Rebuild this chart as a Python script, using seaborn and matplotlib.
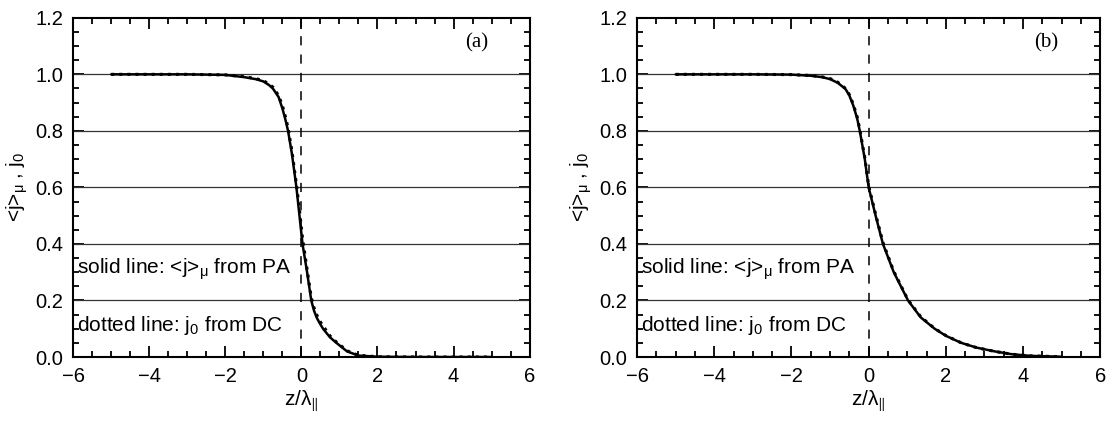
import numpy as np
import pandas as pd
import matplotlib
matplotlib.use("Agg")
import matplotlib.pyplot as plt
import seaborn as sns
from matplotlib.ticker import MultipleLocator

# panel (a): <j>_mu from PA (solid) and j0 from DC (dotted)
z_a = [-5.0, -3.0, -2.0, -1.5, -1.2, -1.0, -0.85, -0.75, -0.6, -0.5, -0.42, -0.35,
       -0.25, -0.13, -0.05, 0.03, 0.15, 0.26, 0.33, 0.4, 0.48, 0.57, 0.75, 0.92,
       1.2, 1.5, 2.0, 3.0, 4.0, 5.0]
pa_a = [1.0, 1.0, 0.998, 0.99, 0.983, 0.975, 0.962, 0.95, 0.92, 0.88, 0.84, 0.8,
        0.72, 0.6, 0.5, 0.4, 0.3, 0.2, 0.165, 0.14, 0.12, 0.1, 0.07, 0.05,
        0.02, 0.005, 0.001, 0.0, 0.0, 0.0]
dc_a = [1.0, 1.0, 0.998, 0.992, 0.985, 0.978, 0.965, 0.955, 0.925, 0.89, 0.85, 0.81,
        0.73, 0.61, 0.52, 0.42, 0.31, 0.21, 0.175, 0.15, 0.128, 0.11, 0.075, 0.053,
        0.022, 0.006, 0.001, 0.0, 0.0, 0.0]

# panel (b)
z_b = [-5.0, -3.0, -2.0, -1.5, -1.2, -1.0, -0.8, -0.6, -0.5, -0.4, -0.3, -0.23,
       -0.1, 0.0, 0.18, 0.37, 0.65, 1.02, 1.35, 1.71, 2.0, 2.4, 2.8, 3.26, 3.7,
       4.2, 5.0]
pa_b = [1.0, 1.0, 0.999, 0.995, 0.99, 0.983, 0.97, 0.948, 0.925, 0.89, 0.845, 0.8,
        0.7, 0.6, 0.5, 0.4, 0.3, 0.2, 0.14, 0.1, 0.075, 0.05, 0.033, 0.02, 0.01,
        0.004, 0.001]
dc_b = [1.0, 1.0, 0.999, 0.996, 0.991, 0.985, 0.972, 0.95, 0.928, 0.895, 0.85, 0.805,
        0.705, 0.605, 0.505, 0.405, 0.303, 0.202, 0.142, 0.101, 0.076, 0.05, 0.033,
        0.02, 0.01, 0.004, 0.001]

panels = [("(a)", z_a, pa_a, dc_a), ("(b)", z_b, pa_b, dc_b)]
y_ticks = [0.0, 0.2, 0.4, 0.6, 0.8, 1.0, 1.2]
x_ticks = [-6, -4, -2, 0, 2, 4, 6]

sns.set_style("ticks")
plt.rcParams["font.family"] = ["Liberation Sans", "DejaVu Sans"]
plt.rcParams["mathtext.fontset"] = "custom"
plt.rcParams["mathtext.rm"] = "Liberation Sans"
plt.rcParams["mathtext.it"] = "Liberation Sans"
plt.rcParams["mathtext.sf"] = "Liberation Sans"
for key in ["text.color", "axes.labelcolor", "xtick.color", "ytick.color", "axes.edgecolor"]:
    plt.rcParams[key] = "black"

fig = plt.figure(figsize=(11.08, 4.24), dpi=100)
rects = [[0.066, 0.158, 0.412, 0.80], [0.575, 0.158, 0.418, 0.80]]

for rect, (tag, z, pa, dc) in zip(rects, panels):
    ax = fig.add_axes(rect)
    df = pd.DataFrame({"z": z, "pa": pa, "dc": dc})
    for y in y_ticks[1:-1]:
        ax.axhline(y, color="#333333", lw=0.9, zorder=1)
    ax.axvline(0, ymin=0, ymax=1, color="black", lw=1.1, ls=(0, (6, 6)), zorder=2)
    sns.lineplot(data=df, x="z", y="dc", ax=ax, color="black", lw=2.2,
                 linestyle=":", zorder=3)
    sns.lineplot(data=df, x="z", y="pa", ax=ax, color="black", lw=1.8, zorder=4)

    ax.set_xlim(-6, 6)
    ax.set_ylim(0, 1.2)
    ax.set_xticks(x_ticks)
    ax.set_xticklabels([f"\u2212{abs(t)}" if t < 0 else str(t) for t in x_ticks])
    ax.set_yticks(y_ticks)
    ax.set_yticklabels([f"{t:.1f}" for t in y_ticks])
    ax.xaxis.set_minor_locator(MultipleLocator(0.5))
    ax.yaxis.set_minor_locator(MultipleLocator(0.05))
    ax.tick_params(which="both", direction="in", top=True, right=True,
                   width=1.3, labelsize=14.5, pad=7)
    ax.tick_params(which="major", length=8)
    ax.tick_params(which="minor", length=4)
    for s in ax.spines.values():
        s.set_linewidth(1.5)

    ax.set_xlabel("z/λ$_{\u2225}$", fontsize=15, labelpad=2)
    ax.set_ylabel("<j>$_{μ}$ , j$_{0}$", fontsize=15, labelpad=4)

    ax.text(4.6, 1.11, tag, family="Liberation Serif", fontsize=15,
            ha="center", va="center")
    ax.text(-5.9, 0.31, "solid line: <j>$_{μ}$ from PA", fontsize=15,
            ha="left", va="center")
    ax.text(-5.9, 0.11, "dotted line: j$_{0}$ from DC", fontsize=15,
            ha="left", va="center")

fig.savefig("out.png", dpi=100)
